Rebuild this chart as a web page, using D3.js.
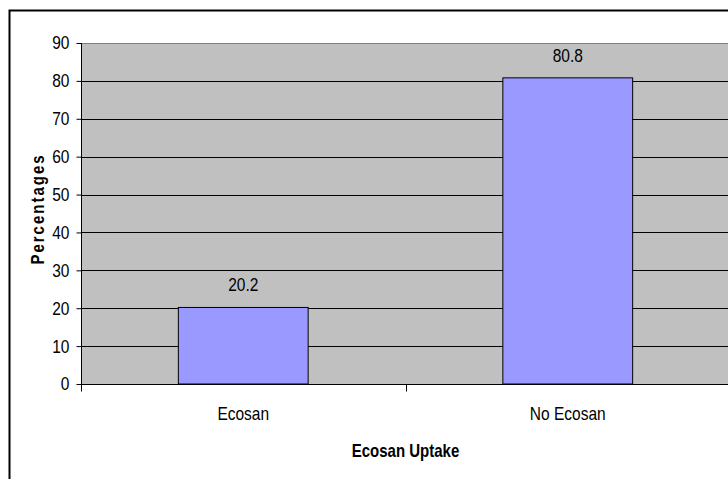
<!DOCTYPE html>
<html>
<head>
<meta charset="utf-8">
<script src="https://cdn.jsdelivr.net/npm/d3@7"></script>
<style>
  html, body { margin: 0; padding: 0; background: #fff; }
  svg { display: block; }
  text { font-family: "Liberation Sans", Arial, sans-serif; fill: #000; }
</style>
</head>
<body>
<svg id="chart" width="728" height="479"></svg>
<script>
const categories = ["Ecosan", "No Ecosan"];
const values = [20.2, 80.8];
const yTicks = [0, 10, 20, 30, 40, 50, 60, 70, 80, 90];
const xTitle = "Ecosan Uptake";
const yTitle = "Percentages";

const svg = d3.select("#chart");
const W = 728, H = 479;
const plot = { left: 81, top: 43, right: 730, bottom: 384 };
const SY = 1.17; // vertical stretch of the reference text

function addText(parent, x, y, str, opts) {
  const t = parent.append("text")
    .attr("transform", `translate(${x},${y}) scale(1,${SY})`)
    .attr("text-anchor", opts.anchor || "middle")
    .attr("font-size", opts.size || 15.5)
    .attr("font-weight", opts.weight || "normal")
    .text(str);
  return t;
}

// outer chart border
svg.append("rect")
  .attr("x", 9.5).attr("y", 10.5)
  .attr("width", W + 20).attr("height", H + 20)
  .attr("fill", "#fff").attr("stroke", "#000").attr("stroke-width", 2);

const y = d3.scaleLinear().domain([0, 90]).range([plot.bottom, plot.top]);
const x = d3.scaleBand().domain(categories)
  .range([plot.left, plot.right]).paddingInner(0.6).paddingOuter(0.3);

// plot background
svg.append("rect")
  .attr("x", plot.left).attr("y", plot.top)
  .attr("width", plot.right - plot.left).attr("height", plot.bottom - plot.top)
  .attr("fill", "#c0c0c0");

// gridlines
svg.append("g").selectAll("line")
  .data(yTicks.filter(t => t > 0))
  .join("line")
  .attr("x1", plot.left).attr("x2", plot.right)
  .attr("y1", d => Math.round(y(d)) + 0.5).attr("y2", d => Math.round(y(d)) + 0.5)
  .attr("stroke", d => d === 90 ? "#808080" : "#000")
  .attr("stroke-width", 1);

// bars
svg.append("g").selectAll("rect")
  .data(values)
  .join("rect")
  .attr("x", (d, i) => x(categories[i]))
  .attr("y", d => y(d))
  .attr("width", x.bandwidth())
  .attr("height", d => y(0) - y(d))
  .attr("fill", "#9999ff")
  .attr("stroke", "#000").attr("stroke-width", 1);

// value labels
const gv = svg.append("g");
values.forEach((d, i) => {
  addText(gv, x(categories[i]) + x.bandwidth() / 2, y(d) - 16, d.toFixed(1), { size: 15.5 });
});

// y axis (ticks + domain via d3 axis, labels drawn stretched)
const yAxis = d3.axisLeft(y).tickValues(yTicks).tickSize(5).tickFormat("");
const gy = svg.append("g").attr("transform", `translate(${plot.left + 0.5},0)`).call(yAxis);
gy.select(".domain").attr("d", `M0,${plot.top}V${plot.bottom + 7}`).attr("stroke", "#000");
const gyl = svg.append("g");
yTicks.forEach(t => {
  addText(gyl, 69.5, y(t) + 6.4, String(t), { anchor: "end", size: 15.5 });
});

// x axis
const xAxis = d3.axisBottom(x).tickSize(0).tickFormat("");
const gx = svg.append("g").attr("transform", `translate(0,${plot.bottom + 0.5})`).call(xAxis);
gx.select(".domain").attr("d", `M${plot.left},0H${plot.right}`).attr("stroke", "#000");
const bounds = [plot.left, ...categories.map(c => x(c) + x.bandwidth() / 2 + x.step() / 2)];
gx.selectAll(".bound").data(bounds).join("line")
  .attr("class", "bound")
  .attr("x1", d => Math.round(d) + 0.5).attr("x2", d => Math.round(d) + 0.5)
  .attr("y1", 0).attr("y2", 7).attr("stroke", "#000");
const gxl = svg.append("g");
categories.forEach(c => {
  addText(gxl, x(c) + x.bandwidth() / 2, 420, c, { size: 15.5 });
});

// axis titles
addText(svg, (bounds[1]), 457, xTitle, { size: 15, weight: "bold" });

svg.append("text")
  .attr("transform", `translate(43.5,209) rotate(-90) scale(1,${SY})`)
  .attr("text-anchor", "middle")
  .attr("font-size", 15).attr("font-weight", "bold")
  .attr("letter-spacing", 2)
  .text(yTitle);
</script>
</body>
</html>
